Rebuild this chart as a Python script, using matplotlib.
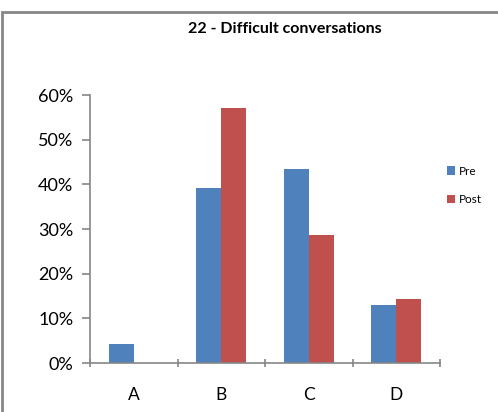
import matplotlib.pyplot as plt
import numpy as np
from matplotlib.patches import Rectangle
from matplotlib.ticker import PercentFormatter

plt.rcParams['font.family'] = ['Lato', 'DejaVu Sans']

# Survey answers, share of respondents
categories = ['A', 'B', 'C', 'D']
pre = [4.3, 39.1, 43.5, 13.0]
post = [0.0, 57.1, 28.6, 14.3]

W, H = 498, 412
fig = plt.figure(figsize=(W / 100, H / 100), dpi=100)

# outer chart frame (runs off the right and bottom edges)
fig.patches.append(Rectangle((2 / W, -0.05), 1.1, 1 - 12 / H + 0.05,
                             transform=fig.transFigure, fill=False,
                             edgecolor='#868686', linewidth=2))

ax = fig.add_axes([90 / W, 1 - 363 / H, 350 / W, 268 / H])

x = np.arange(len(categories))
w = 1 / 3.5
ax.bar(x - w / 2, pre, w, color='#4F81BD', label='Pre')
ax.bar(x + w / 2, post, w, color='#C0504D', label='Post')

ax.set_xlim(-0.5, len(categories) - 0.5)
ax.set_ylim(0, 60)
ax.set_yticks(np.arange(0, 61, 10))
ax.yaxis.set_major_formatter(PercentFormatter(decimals=0))
ax.set_xticks(np.arange(-0.5, len(categories), 1))
ax.set_xticklabels([])
ax.set_xticks(x, minor=True)
ax.set_xticklabels(categories, minor=True)

for s in ['top', 'right']:
    ax.spines[s].set_visible(False)
for s in ['left', 'bottom']:
    ax.spines[s].set_color('#868686')
    ax.spines[s].set_linewidth(1.2)

ax.tick_params(axis='y', which='major', length=6, color='#868686',
               labelsize=13, pad=6)
ax.tick_params(axis='x', which='major', length=6, direction='inout',
               color='#868686', width=1.2)
ax.tick_params(axis='x', which='minor', length=0, labelsize=12.5, pad=17)
ax.tick_params(axis='y', width=1.2)

fig.text(285 / W, 1 - 29 / H, '22 - Difficult conversations',
         ha='center', va='center', fontsize=11.5, fontweight='bold')

ax.legend(loc='upper left', bbox_to_anchor=(436 / W, 1 - 155 / H),
          bbox_transform=fig.transFigure, frameon=False, fontsize=8.5,
          handlelength=0.7, handleheight=0.7, handletextpad=0.3,
          labelspacing=1.5)

fig.savefig('out.png', dpi=100)
